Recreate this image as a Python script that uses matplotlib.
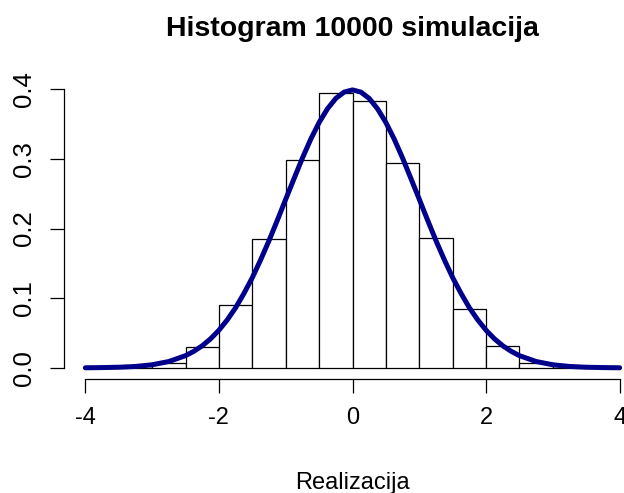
import numpy as np
import matplotlib
matplotlib.use("Agg")
import matplotlib.pyplot as plt

plt.rcParams['font.family'] = ['Liberation Sans', 'DejaVu Sans']

# histogram: bin edges and densities
bin_edges = [-4.0, -3.5, -3.0, -2.5, -2.0, -1.5, -1.0, -0.5, 0.0,
             0.5, 1.0, 1.5, 2.0, 2.5, 3.0, 3.5, 4.0]
densities = [0.0004, 0.002, 0.0063, 0.030, 0.090, 0.185, 0.299, 0.394,
             0.383, 0.294, 0.186, 0.084, 0.031, 0.007, 0.002, 0.0004]

# overlaid density curve
curve_x = [-4.0, -3.75, -3.5, -3.25, -3.0, -2.75, -2.5, -2.375, -2.25, -2.125,
           -2.0, -1.875, -1.75, -1.625, -1.5, -1.375, -1.25, -1.125,
           -1.0, -0.875, -0.75, -0.625, -0.5, -0.375, -0.25, -0.125, 0.0,
           0.125, 0.25, 0.375, 0.5, 0.625, 0.75, 0.875, 1.0,
           1.125, 1.25, 1.375, 1.5, 1.625, 1.75, 1.875, 2.0,
           2.125, 2.25, 2.375, 2.5, 2.75, 3.0, 3.25, 3.5, 3.75, 4.0]
curve_y = [0.0001, 0.0004, 0.0009, 0.002, 0.0044, 0.0091, 0.0175, 0.0238, 0.0317, 0.0417,
           0.054, 0.0689, 0.0863, 0.1069, 0.1295, 0.1551, 0.1826, 0.2119,
           0.242, 0.2717, 0.3011, 0.3282, 0.3521, 0.3718, 0.3867, 0.3958, 0.3989,
           0.3958, 0.3867, 0.3718, 0.3521, 0.3282, 0.3011, 0.2717, 0.242,
           0.2119, 0.1826, 0.1551, 0.1295, 0.1069, 0.0863, 0.0689, 0.054,
           0.0417, 0.0317, 0.0238, 0.0175, 0.0091, 0.0044, 0.002, 0.0009, 0.0004, 0.0001]

x_ticks = [-4, -2, 0, 2, 4]
y_ticks = [0.0, 0.1, 0.2, 0.3, 0.4]

W, H = 624, 493
fig = plt.figure(figsize=(W / 100, H / 100), dpi=100)
ax = fig.add_axes([64 / W, 1 - 379 / H, 577 / W, 301 / H])

widths = np.diff(bin_edges)
ax.bar(bin_edges[:-1], densities, width=widths, align='edge',
       color='white', edgecolor='black', linewidth=0.9)
ax.plot(curve_x, curve_y, color='#00008B', linewidth=3.6,
        solid_capstyle='round', solid_joinstyle='round')

ax.set_xlim(-4.32, 4.32)
ax.set_ylim(-0.016, 0.416)

for s in ['top', 'right']:
    ax.spines[s].set_visible(False)
ax.spines['left'].set_bounds(0, 0.4)
ax.spines['bottom'].set_bounds(-4, 4)
ax.spines['left'].set_linewidth(0.9)
ax.spines['bottom'].set_linewidth(0.9)

ax.set_xticks(x_ticks)
ax.set_xticklabels([str(t) for t in x_ticks])
ax.set_yticks(y_ticks)
ax.set_yticklabels(['%.1f' % t for t in y_ticks], rotation=90, va='center')
ax.tick_params(axis='both', direction='out', length=10, width=0.9,
               labelsize=17)
ax.tick_params(axis='y', labelsize=18.5)
ax.tick_params(axis='x', pad=10)
ax.tick_params(axis='y', pad=10)

fig.text(352 / W, 1 - 36 / H, 'Histogram 10000 simulacija',
         ha='center', va='baseline', fontsize=20.5, fontweight='bold')
fig.text(352 / W, 1 - 489 / H, 'Realizacija',
         ha='center', va='baseline', fontsize=17)

fig.savefig('out.png', dpi=100)
